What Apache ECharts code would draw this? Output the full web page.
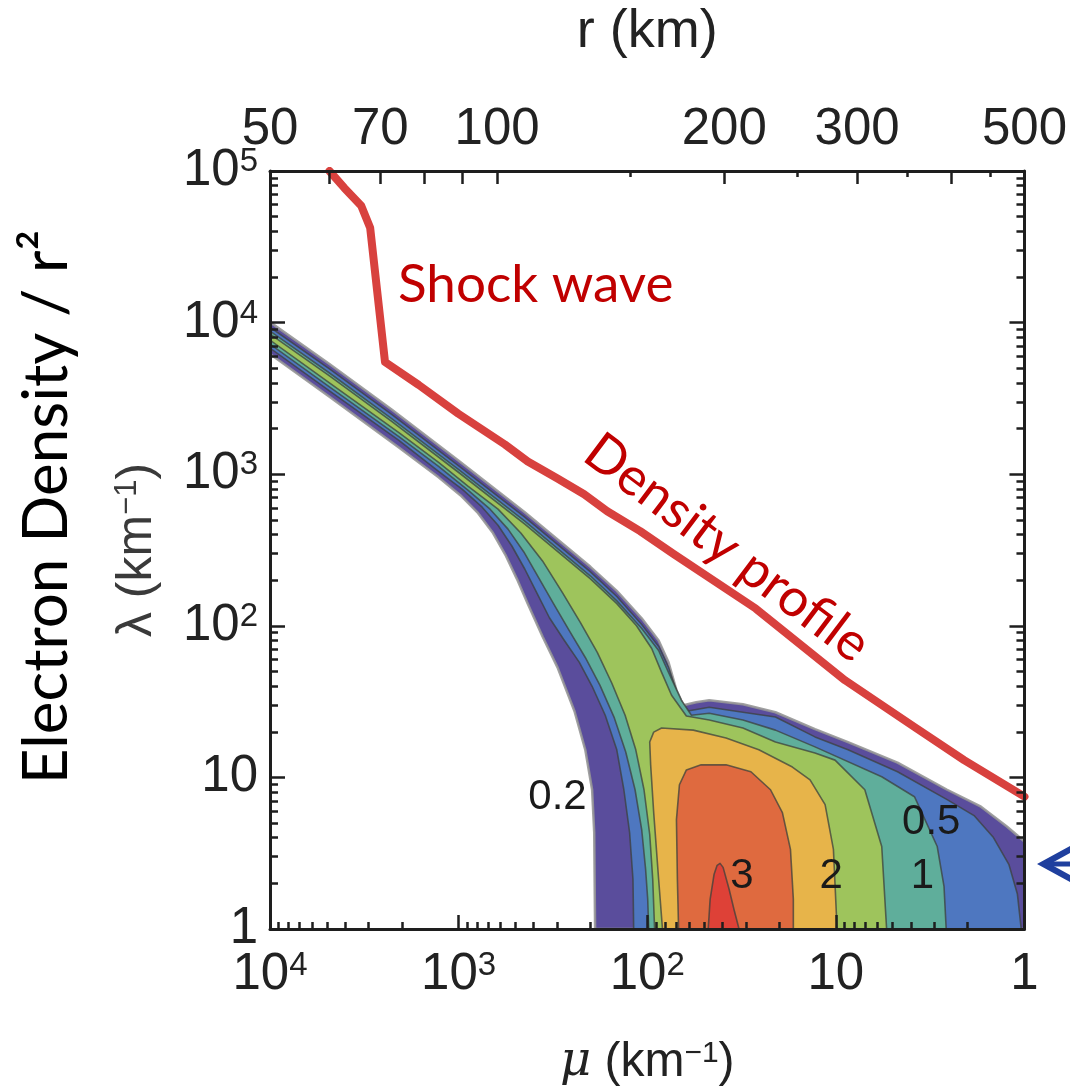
<!DOCTYPE html>
<html><head><meta charset="utf-8">
<script src="https://cdn.jsdelivr.net/npm/echarts@6/dist/echarts.min.js"></script>
<style>html,body{margin:0;padding:0;background:#fff}#c{width:1070px;height:1092px}</style>
</head><body><div id="c"></div>
<script>
// ---------- axis ticks / labels ----------
const muTicks = [10000, 1000, 100, 10, 1];
const lambdaTicks = [1, 10, 100, 1000, 10000, 100000];
const rLabels = [50, 70, 100, 200, 300, 500];
const rMajorTicks = [60, 70, 80, 90, 100, 200, 300, 400];
const rMinorTicks = [150, 250, 350, 450];
const minorFactors = [2, 3, 4, 5, 6, 7, 8, 9];

// ---------- density profile (red line) ----------
const profileMu = [4840, 4036, 3284, 2945, 2456, 1629, 1003, 568, 430, 299, 216, 163, 109, 72.6, 26.6, 8.94, 3.83, 2.09, 1];
const profileLambda = [100000, 77300, 58900, 42300, 5500, 3883, 2506, 1570, 1213, 938, 737, 570, 421, 298, 130, 43.7, 21.5, 13.0, 7.46];

// ---------- filled contour regions [mu, lambda] (region where value >= level) ----------
const levels = [0.2, 0.5, 1, 1.5, 2, 2.5, 3];
const levelColors = ['#5a4d9c', '#4e77c0', '#5fae9b', '#9ec45c', '#e7b44a', '#df6a3f', '#de4137'];
const contour02 = [[10000,10070],[4840,5340],[2256,2660],[1003,1230],[446,561],[200,245],[145,170],[107,112],[87.0,80.0],[77.1,57.4],[70.0,37.6],[64.3,29.9],[55.0,31.3],[46.9,32.3],[31.1,30.4],[20.9,26.9],[12.9,20.8],[8.62,17.1],[4.71,12.5],[2.57,8.29],[1.70,6.41],[1.24,4.74],[1,3.78],[1,1],[189,1],[191,4.33],[196,8.29],[213,15.2],[243,27.3],[299,53.2],[359,84.9],[430,140],[491,204],[561,289],[657,409],[788,553],[979,727],[1277,953],[2073,1500],[4840,3240],[10000,6210]];
const contour05 = [[10000,9330],[4840,4950],[2256,2470],[1003,1140],[446,521],[200,227],[145,156],[107,102],[87.0,73.1],[77.1,53.2],[68.2,33.8],[62.0,27.3],[46.9,29.0],[31.1,26.9],[20.9,25.0],[12.9,18.5],[8.62,15.2],[4.71,10.9],[2.57,7.13],[1.85,5.60],[1.46,4.01],[1.21,2.67],[1.09,1.70],[1.04,1],[118,1],[119,2.13],[124,4.33],[133,8.29],[145,15.2],[167,25.7],[196,39.9],[229,57.4],[275,80.0],[330,113],[385,165],[446,237],[522,336],[618,461],[750,606],[955,795],[1277,1043],[2073,1670],[4840,3550],[10000,6790]];
const contour10 = [[10000,8790],[4840,4650],[2256,2320],[1003,1075],[446,490],[200,213],[145,146],[107,95.9],[87.0,68.7],[77.1,49.3],[65.9,32.3],[58.3,25.7],[46.9,26.5],[31.1,23.9],[20.9,20.5],[12.9,15.9],[5.71,10.1],[3.83,7.46],[2.90,3.50],[2.67,1.91],[2.60,1],[98.2,1],[99.4,1.57],[102,2.48],[107,4.53],[116,8.29],[130,14.7],[150,25.0],[178,40.5],[213,61.8],[259,93.0],[314,140],[376,207],[451,307],[547,434],[681,588],[889,783],[1277,1125],[2073,1770],[4840,3770],[10000,7220]];
const contour15 = [[10000,8400],[4840,4450],[2256,2220],[1003,1030],[446,469],[200,204],[145,140],[114,100],[94.7,70.8],[83.9,49.3],[74.3,34.8],[62.0,25.4],[46.9,23.9],[31.1,21.2],[20.9,17.1],[12.9,14.5],[10.1,13.0],[7.02,8.29],[5.71,3.50],[5.38,1],[91.4,1],[93.5,2.13],[97.0,4.20],[104,8.29],[115,15.2],[131,25.7],[154,41.8],[184,66.7],[226,105],[281,165],[359,268],[468,409],[618,588],[889,832],[1277,1195],[2073,1880],[4840,4000],[10000,7670]];
const contour20 = [[83.0,1],[87.0,2.13],[92.4,5.86],[95.9,12.1],[97.0,17.1],[92.4,19.9],[83.9,21.2],[57.0,20.5],[38.2,18.2],[25.6,15.2],[17.0,11.7],[13.7,9.64],[11.4,6.61],[10.3,3.35],[9.85,1]];
const contour25 = [[68.2,1],[69.2,2.13],[70.0,5.27],[67.5,8.94],[62.0,11.2],[51.8,12.1],[38.2,12.1],[28.2,10.9],[22.2,8.29],[19.2,5.86],[17.4,3.35],[16.8,1.57],[16.8,1]];
const contour30 = [[47.5,1],[46.4,1.57],[44.2,2.30],[42.6,2.63],[41.1,2.71],[39.6,2.55],[36.8,1.83],[34.7,1.35],[32.6,1]];

// ---------- contour labels ----------
const contourLabelText = ['0.2', '0.5', '1', '2', '3'];
const contourLabelMu = [299, 3.12, 3.48, 10.6, 31.5];
const contourLabelLambda = [7.35, 5.04, 2.23, 2.23, 2.23];

// ---------- build ----------
const L = Math.log10;
const NUM_FONT = "'Liberation Sans',Arial,sans-serif";
const AX = '#1e1e1e';
function minorVals(lo, hi) {
  const out = [];
  for (let d = lo; d < hi; d++) minorFactors.forEach(k => out.push(L(k) + d));
  return out;
}
const powRich = {
  b: {fontSize: 51, fontFamily: NUM_FONT, color: '#222'},
  s: {fontSize: 33, fontFamily: NUM_FONT, color: '#222', verticalAlign: 'top'}
};
function powLabel(v) {
  const n = Math.round(v);
  if (n === 0) return '{b|1}';
  if (n === 1) return '{b|10}';
  return '{b|10}{s|' + n + '}';
}
const contours = [contour02, contour05, contour10, contour15, contour20, contour25, contour30];
const polySeries = contours.map((pts, i) => ({
  type: 'custom', xAxisIndex: 0, yAxisIndex: 0, silent: true, clip: true, z: 2 + i * 0.01,
  data: [[0, 0]],
  renderItem: function (params, api) {
    const p = pts.map(d => api.coord([L(d[0]), L(d[1])]));
    return {
      type: 'polygon', shape: {points: p},
      style: {fill: levelColors[i], stroke: i === 0 ? 'rgba(150,150,150,0.9)' : 'rgba(60,64,60,0.75)', lineWidth: i === 0 ? 2.5 : 1.6, lineJoin: 'round'}
    };
  }
}));

const chart = echarts.init(document.getElementById('c'), null, {renderer: 'canvas'});
const baseX = {type: 'value', min: 0, max: 4, inverse: true, splitLine: {show: false}, z: 10};
const baseY = {type: 'value', min: 0, max: 5, splitLine: {show: false}, z: 10};
const noLine = {show: false, onZero: false};
chart.setOption({
  animation: false,
  backgroundColor: '#fff',
  grid: {left: 270, top: 168, width: 761, height: 762, containLabel: false},
  xAxis: [
    Object.assign({}, baseX, {
      position: 'bottom',
      axisLine: {show: true, onZero: false, lineStyle: {color: AX, width: 3}},
      axisTick: {show: true, inside: true, length: 14, lineStyle: {color: AX, width: 2.5}, customValues: muTicks.map(L)},
      axisLabel: {show: true, margin: 20, customValues: muTicks.map(L), formatter: powLabel, rich: powRich},
      name: '{m|μ}{t| (km}{s|−1}{t|)}', nameLocation: 'middle', nameGap: 110,
      nameTextStyle: {rich: {
        m: {fontSize: 48, fontStyle: 'italic', fontFamily: "'DejaVu Serif',serif", color: '#222'},
        t: {fontSize: 48, fontFamily: NUM_FONT, color: '#222'},
        s: {fontSize: 30, fontFamily: NUM_FONT, color: '#222', verticalAlign: 'top'}
      }}
    }),
    Object.assign({}, baseX, {
      position: 'bottom', axisLine: noLine, axisLabel: {show: false},
      axisTick: {show: true, inside: true, length: 7, lineStyle: {color: AX, width: 2.5}, customValues: minorVals(0, 4)}
    }),
    {type: 'value', position: 'top', min: L(50), max: L(500), splitLine: {show: false}, z: 10,
      axisLine: {show: true, onZero: false, lineStyle: {color: AX, width: 3}},
      axisTick: {show: true, inside: true, length: 13, lineStyle: {color: AX, width: 2.5}, customValues: rMajorTicks.map(L)},
      axisLabel: {show: true, margin: 16, customValues: rLabels.map(L), fontSize: 51, fontFamily: NUM_FONT, color: '#222',
        formatter: v => String(Math.round(Math.pow(10, v)))},
      name: 'r (km)', nameLocation: 'middle', nameGap: 112,
      nameTextStyle: {fontSize: 54, fontFamily: NUM_FONT, color: '#222'}
    },
    {type: 'value', position: 'top', min: L(50), max: L(500), splitLine: {show: false}, z: 10,
      axisLine: noLine, axisLabel: {show: false},
      axisTick: {show: true, inside: true, length: 6, lineStyle: {color: AX, width: 2.5}, customValues: rMinorTicks.map(L)}
    }
  ],
  yAxis: [
    Object.assign({}, baseY, {
      position: 'left',
      axisLine: {show: true, onZero: false, lineStyle: {color: AX, width: 3}},
      axisTick: {show: true, inside: true, length: 15, lineStyle: {color: AX, width: 2.5}, customValues: lambdaTicks.map(L)},
      axisLabel: {show: true, margin: 12, customValues: lambdaTicks.map(L), formatter: powLabel, rich: powRich},
      name: '{t|λ (km}{s|−1}{t|)}', nameLocation: 'middle', nameGap: 108, nameRotate: 90,
      nameTextStyle: {rich: {
        t: {fontSize: 50, fontFamily: NUM_FONT, color: '#3a3a3a'},
        s: {fontSize: 31, fontFamily: NUM_FONT, color: '#3a3a3a', verticalAlign: 'top'}
      }}
    }),
    Object.assign({}, baseY, {
      position: 'left', axisLine: noLine, axisLabel: {show: false},
      axisTick: {show: true, inside: true, length: 8, lineStyle: {color: AX, width: 2.5}, customValues: minorVals(0, 5)}
    }),
    Object.assign({}, baseY, {
      position: 'right', axisLine: {show: true, onZero: false, lineStyle: {color: AX, width: 3}}, axisLabel: {show: false},
      axisTick: {show: true, inside: true, length: 15, lineStyle: {color: AX, width: 2.5}, customValues: lambdaTicks.map(L)}
    }),
    Object.assign({}, baseY, {
      position: 'right', axisLine: noLine, axisLabel: {show: false},
      axisTick: {show: true, inside: true, length: 8, lineStyle: {color: AX, width: 2.5}, customValues: minorVals(0, 5)}
    })
  ],
  series: polySeries.concat([
    {
      type: 'line', xAxisIndex: 0, yAxisIndex: 0, z: 5, clip: true, silent: true,
      showSymbol: false, symbol: 'none', smooth: false,
      data: profileMu.map((m, i) => [L(m), L(profileLambda[i])]),
      lineStyle: {color: '#d8413e', width: 8, join: 'round', cap: 'round'}
    },
    {
      type: 'custom', xAxisIndex: 0, yAxisIndex: 0, z: 6, silent: true,
      data: contourLabelText.map((t, i) => [L(contourLabelMu[i]), L(contourLabelLambda[i])]),
      renderItem: function (params, api) {
        const c = api.coord([api.value(0), api.value(1)]);
        return {type: 'text', x: c[0], y: c[1],
          style: {text: contourLabelText[params.dataIndex], fill: '#1a1a1a', font: "42px 'Liberation Sans', Arial, sans-serif",
            textAlign: 'center', textVerticalAlign: 'middle'}};
      }
    }
  ]),
  graphic: [
    {type: 'text', left: 398, top: 258, style: {text: 'Shock wave', font: "53px Lato, sans-serif", fill: '#c00000'}},
    {type: 'text', x: 727, y: 548, rotation: -37 * Math.PI / 180,
      style: {text: 'Density profile', font: "53px Lato, sans-serif", fill: '#c00000', textAlign: 'center', textVerticalAlign: 'middle'}},
    {type: 'text', x: 47, y: 507, rotation: Math.PI / 2,
      style: {text: 'Electron Density / r²', font: "62px Lato, sans-serif", fill: '#000', textAlign: 'center', textVerticalAlign: 'middle'}},
    {type: 'polygon', shape: {points: [[1037, 864], [1072, 845], [1072, 852], [1050, 864], [1072, 876], [1072, 883]]}, style: {fill: '#1f3f9e'}},
    {type: 'line', shape: {x1: 1046, y1: 864, x2: 1075, y2: 864}, style: {stroke: '#1f3f9e', lineWidth: 5}}
  ]
});
</script>
</body></html>
